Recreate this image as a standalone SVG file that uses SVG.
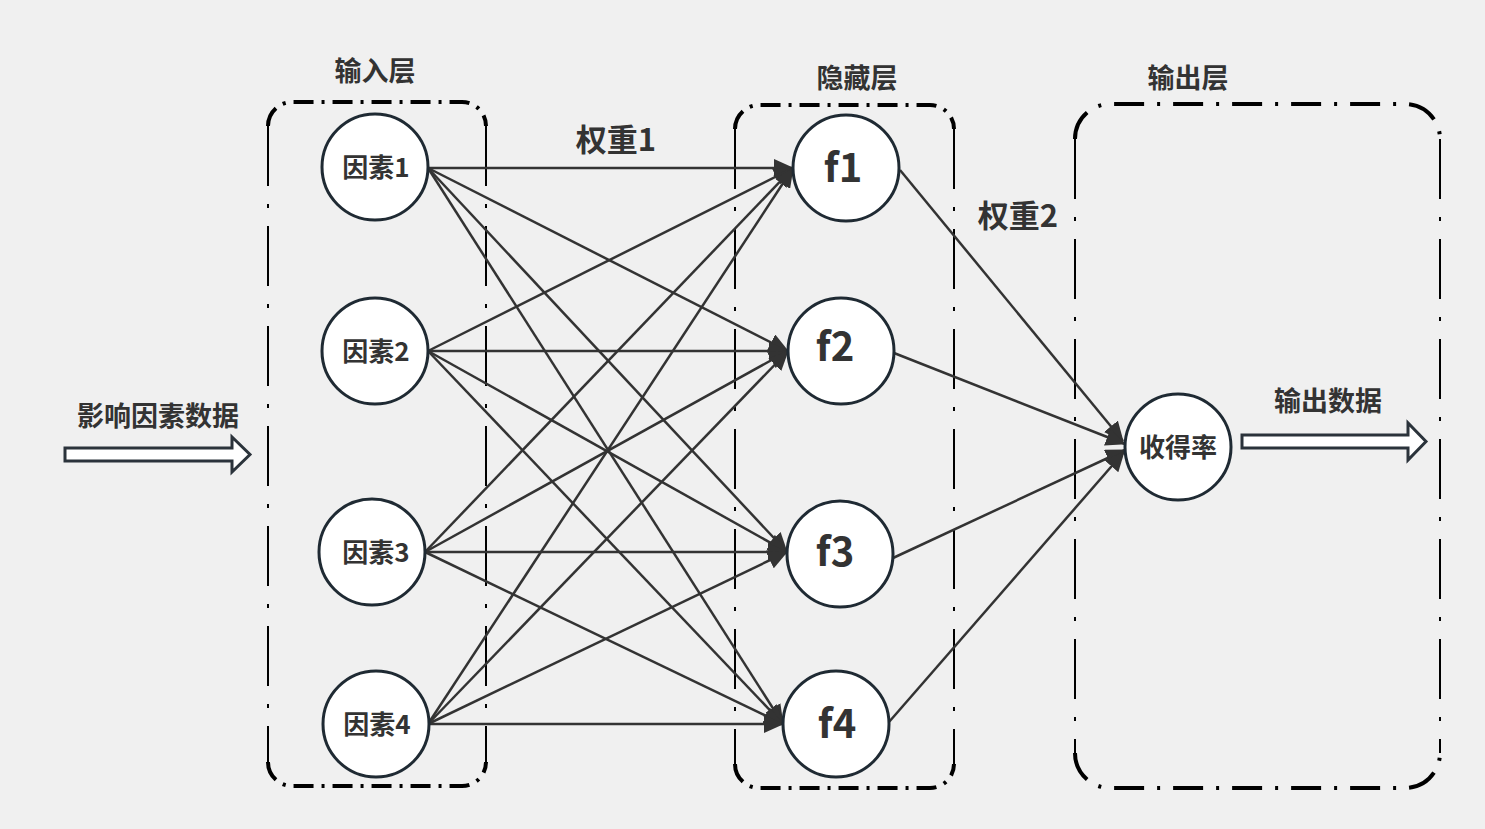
<svg xmlns="http://www.w3.org/2000/svg" width="1485" height="829" viewBox="0 0 1485 829">
<defs>
<style>
.t{font-family:"Noto Sans CJK SC","Noto Sans",sans-serif;font-weight:bold;fill:#333;text-anchor:middle}
.n circle{fill:#fff;stroke:#1f2a33;stroke-width:3}
.e line{stroke:#333;stroke-width:2.5;marker-end:url(#ah)}
.fh{fill:none;stroke:#000;stroke-width:4;stroke-dasharray:20 8 3 8}
.fv{fill:none;stroke:#000;stroke-width:2;stroke-dasharray:60 18 4 18}
.fh2{fill:none;stroke:#000;stroke-width:4;stroke-dasharray:30 13 3 13}
.ba{fill:#fff;stroke:#2b333b;stroke-width:3;stroke-linejoin:miter}
</style>
<marker id="ah" viewBox="0 0 20 18" refX="19" refY="9" markerWidth="20" markerHeight="18" markerUnits="userSpaceOnUse" orient="auto">
<path d="M0,0 L20,9 L0,18 z" fill="#333"/>
</marker>
</defs>
<rect width="1485" height="829" fill="#f0f0f0"/>

<g id="frame-input">
<path class="fh" d="M268,126 A24,24 0 0 1 292,102 H462 A24,24 0 0 1 486,126"/>
<path class="fh" d="M268,762 A24,24 0 0 0 292,786 H462 A24,24 0 0 0 486,762"/>
<path class="fv" d="M268,126 V762"/>
<path class="fv" d="M486,126 V762"/>
</g>
<g id="frame-hidden">
<path class="fh" d="M735,129 A24,24 0 0 1 759,105 H930 A24,24 0 0 1 954,129"/>
<path class="fh" d="M735,764 A24,24 0 0 0 759,788 H930 A24,24 0 0 0 954,764"/>
<path class="fv" d="M735,129 V764"/>
<path class="fv" d="M954,129 V764"/>
</g>
<g id="frame-output">
<path class="fh2" d="M1075,139 A35,35 0 0 1 1110,104 H1405 A35,35 0 0 1 1440,139"/>
<path class="fh2" d="M1075,753 A35,35 0 0 0 1110,788 H1405 A35,35 0 0 0 1440,753"/>
<path class="fv" d="M1075,139 V753"/>
<path class="fv" d="M1440,139 V753"/>
</g>

<text class="t" x="375" y="81" font-size="27">输入层</text>
<text class="t" x="857" y="88" font-size="27">隐藏层</text>
<text class="t" x="1188" y="88" font-size="27">输出层</text>
<text class="t" x="616" y="151" font-size="31">权重1</text>
<text class="t" x="1018" y="227" font-size="31">权重2</text>
<text class="t" x="158" y="426" font-size="27">影响因素数据</text>
<text class="t" x="1328" y="411" font-size="27">输出数据</text>

<g id="connectors" class="e">
<line x1="428" y1="168" x2="793" y2="168"/>
<line x1="428" y1="168" x2="788" y2="351"/>
<line x1="428" y1="168" x2="787" y2="552"/>
<line x1="428" y1="168" x2="783" y2="724"/>
<line x1="428" y1="351" x2="793" y2="168"/>
<line x1="428" y1="351" x2="788" y2="351"/>
<line x1="428" y1="351" x2="787" y2="552"/>
<line x1="428" y1="351" x2="783" y2="724"/>
<line x1="425" y1="552" x2="793" y2="168"/>
<line x1="425" y1="552" x2="788" y2="351"/>
<line x1="425" y1="552" x2="787" y2="552"/>
<line x1="425" y1="552" x2="783" y2="724"/>
<line x1="428" y1="724" x2="793" y2="168"/>
<line x1="428" y1="724" x2="788" y2="351"/>
<line x1="428" y1="724" x2="787" y2="552"/>
<line x1="428" y1="724" x2="783" y2="724"/>
<line x1="900" y1="170" x2="1123" y2="441"/>
<line x1="894" y1="353" x2="1125" y2="444"/>
<line x1="893" y1="558" x2="1125" y2="450"/>
<line x1="889" y1="722" x2="1124" y2="452"/>
</g>

<g id="in-arrow"><path class="ba" d="M65,448 H232 V437 L250,454.5 L232,472 V461 H65 Z"/></g>
<g id="out-arrow"><path class="ba" d="M1242,435 H1408 V423 L1426,441.5 L1408,460 V448 H1242 Z"/></g>

<g id="n1" class="n"><circle cx="375" cy="167" r="53"/><text class="t" x="376" y="177" font-size="26">因素1</text></g>
<g id="n2" class="n"><circle cx="375" cy="351" r="53"/><text class="t" x="376" y="361" font-size="26">因素2</text></g>
<g id="n3" class="n"><circle cx="372" cy="552" r="53"/><text class="t" x="376" y="562" font-size="26">因素3</text></g>
<g id="n4" class="n"><circle cx="376" cy="724" r="53"/><text class="t" x="377" y="734" font-size="26">因素4</text></g>
<g id="f1" class="n"><circle cx="846" cy="168" r="53"/><text class="t" x="843" y="182" font-size="40">f1</text></g>
<g id="f2" class="n"><circle cx="841" cy="351" r="53"/><text class="t" x="835" y="361" font-size="40">f2</text></g>
<g id="f3" class="n"><circle cx="840" cy="554" r="53"/><text class="t" x="835" y="566" font-size="40">f3</text></g>
<g id="f4" class="n"><circle cx="836" cy="724" r="53"/><text class="t" x="837" y="738" font-size="40">f4</text></g>
<g id="out" class="n"><circle cx="1178" cy="447" r="53"/><text class="t" x="1178" y="457" font-size="26">收得率</text></g>
</svg>
